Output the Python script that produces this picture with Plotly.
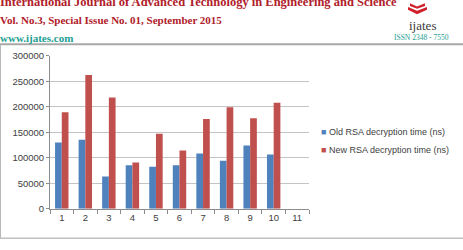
import plotly.graph_objects as go

W, H = 463, 250

categories = [str(i) for i in range(1, 12)]
old_rsa = [130000, 135000, 63000, 85000, 82000, 85000, 108000, 94000, 124000, 106000, None]
new_rsa = [189000, 262000, 218000, 90500, 147000, 114000, 176000, 199000, 177500, 207500, None]
series_names = ["Old RSA decryption time (ns)", "New RSA decryption time (ns)"]
y_ticks = [0, 50000, 100000, 150000, 200000, 250000, 300000]

BLUE = "#4F81BD"
RED = "#C0504D"
TXT = "#404040"

def px(x):
    return x / W

def py(y):
    return 1 - y / H

fig = go.Figure()
fig.add_trace(go.Bar(x=categories, y=old_rsa, name=series_names[0], marker_color=BLUE,
                     marker_line_width=0, showlegend=False))
fig.add_trace(go.Bar(x=categories, y=new_rsa, name=series_names[1], marker_color=RED,
                     marker_line_width=0, showlegend=False))

fig.update_layout(
    width=W, height=H,
    margin=dict(l=0, r=0, t=0, b=0),
    paper_bgcolor="white", plot_bgcolor="white",
    barmode="group", bargap=0.43, bargroupgap=0,
    xaxis=dict(domain=[px(50), px(309)], type="category", categoryorder="array",
               categoryarray=categories,
               showline=True, linecolor="#8c8c8c", linewidth=1,
               ticks="outside", tickson="boundaries", ticklen=4, tickcolor="#8c8c8c",
               tickfont=dict(family="Liberation Sans", size=9.5, color=TXT),
               showgrid=False, zeroline=False, fixedrange=True),
    yaxis=dict(domain=[py(212), py(52)], range=[0, 300000],
               tickvals=y_ticks, ticktext=[str(v) for v in y_ticks],
               showline=True, linecolor="#8c8c8c", linewidth=1,
               ticks="outside", ticklen=3, tickcolor="#8c8c8c",
               tickfont=dict(family="Liberation Sans", size=9.5, color=TXT),
               showgrid=True, gridcolor="#c4c4c4", gridwidth=1,
               zeroline=False, fixedrange=True),
    font=dict(family="Liberation Sans", color=TXT),
)

# legend drawn as annotations
for i, (name, col) in enumerate(zip(series_names, [BLUE, RED])):
    fig.add_annotation(xref="paper", yref="paper", x=px(319), y=py(132 + 18.5 * i),
                       xanchor="left", yanchor="middle", showarrow=False,
                       text=f'<span style="color:{col}">■</span> {name}',
                       font=dict(family="Liberation Sans", size=9, color=TXT))

# header (scanned page; first line is cut off by the page edge as in the scan)
DARKRED = "#B0202A"
TEAL = "#1E9E92"
fig.add_annotation(xref="paper", yref="paper", x=px(-2), y=py(5), xanchor="left", yanchor="bottom",
                   showarrow=False,
                   text="<b>International Journal of Advanced Technology in Engineering and Science</b>",
                   font=dict(family="Liberation Serif", size=12.5, color=DARKRED))
fig.add_annotation(xref="paper", yref="paper", x=px(-2), y=py(15), xanchor="left", yanchor="middle",
                   showarrow=False,
                   text="<b>Vol. No.3, Special Issue No. 01, September 2015</b>",
                   font=dict(family="Liberation Serif", size=11, color=DARKRED))
fig.add_annotation(xref="paper", yref="paper", x=px(-2), y=py(33), xanchor="left", yanchor="middle",
                   showarrow=False, text="<b>www.ijates.com</b>",
                   font=dict(family="Liberation Serif", size=11, color=TEAL))
fig.add_annotation(xref="paper", yref="paper", x=px(422), y=py(20), xanchor="center", yanchor="middle",
                   showarrow=False, text="ijates",
                   font=dict(family="Liberation Serif", size=13, color="#3a3a3a"))
fig.add_annotation(xref="paper", yref="paper", x=px(421), y=py(33), xanchor="center", yanchor="middle",
                   showarrow=False, text="ISSN 2348 - 7550",
                   font=dict(family="Liberation Sans Narrow", size=7.5, color=TEAL))

# logo chevron
def path(points):
    return "M " + " L ".join(f"{px(x)},{py(y)}" for x, y in points) + " Z"

fig.add_shape(type="path", xref="paper", yref="paper",
              path=path([(408, 1), (417, 5), (427, 1), (427, 4), (417, 8.5), (408, 4)]),
              fillcolor="#D0202A", line_width=0)
fig.add_shape(type="path", xref="paper", yref="paper",
              path=path([(410, -3), (417, 0.5), (425, -3), (425, 0), (417, 3), (410, 0)]),
              fillcolor="#D0202A", line_width=0)

# page frame lines
fig.add_shape(type="line", xref="paper", yref="paper", x0=0, x1=1, y0=py(40), y1=py(40),
              line=dict(color="#a8a8a8", width=2))
fig.add_shape(type="line", xref="paper", yref="paper", x0=px(0.5), x1=px(0.5), y0=py(40), y1=py(243),
              line=dict(color="#b8b8b8", width=1))
fig.add_shape(type="line", xref="paper", yref="paper", x0=0, x1=1, y0=py(243), y1=py(243),
              line=dict(color="#c0c0c0", width=1.5))

fig.write_html("out.html")
